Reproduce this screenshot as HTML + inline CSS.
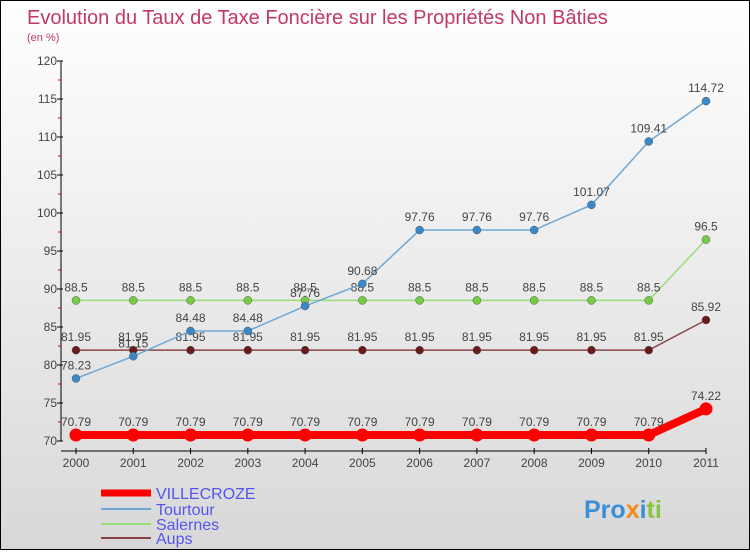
<!DOCTYPE html>
<html><head><meta charset="utf-8"><style>
body{margin:0}
#c{width:748px;height:548px;border:1px solid #000;background:linear-gradient(#fff,#d8d8d8);position:relative;font-family:"Liberation Sans",sans-serif}
text{font-family:"Liberation Sans",sans-serif}
</style></head><body>
<div id="c">
<svg id="s" width="748" height="548">
<text x="26" y="23" font-size="20" fill="#c2386a">Evolution du Taux de Taxe Foncière sur les Propriétés Non Bâties</text>
<text x="26" y="40" font-size="11" fill="#c2386a">(en %)</text>
<g id="ax"></g><g id="ser"></g>
<g>
<line x1="100" y1="492" x2="150" y2="492" stroke="#f00" stroke-width="7"/>
<text x="155" y="498" font-size="16" fill="#5555ee">VILLECROZE</text>
<line x1="100" y1="508" x2="150" y2="508" stroke="#6fa8d6" stroke-width="2"/>
<text x="155" y="514" font-size="16" fill="#5555ee">Tourtour</text>
<line x1="100" y1="523" x2="150" y2="523" stroke="#99dd77" stroke-width="2"/>
<text x="155" y="529" font-size="16" fill="#5555ee">Salernes</text>
<line x1="100" y1="537" x2="150" y2="537" stroke="#884444" stroke-width="2"/>
<text x="155" y="543" font-size="16" fill="#5555ee">Aups</text>
</g>
<text x="583" y="517" font-size="25" font-weight="bold"><tspan fill="#3a8fd8">Pro</tspan><tspan fill="#f08a1c">x</tspan><tspan fill="#3a8fd8">i</tspan><tspan fill="#8ac43f">ti</tspan></text>
</svg></div>
<script>
const years=["2000","2001","2002","2003","2004","2005","2006","2007","2008","2009","2010","2011"];
const yTicks=[70,75,80,85,90,95,100,105,110,115,120];
const villecroze=[70.79,70.79,70.79,70.79,70.79,70.79,70.79,70.79,70.79,70.79,70.79,74.22];
const tourtour=[78.23,81.15,84.48,84.48,87.76,90.68,97.76,97.76,97.76,101.07,109.41,114.72];
const salernes=[88.5,88.5,88.5,88.5,88.5,88.5,88.5,88.5,88.5,88.5,88.5,96.5];
const aups=[81.95,81.95,81.95,81.95,81.95,81.95,81.95,81.95,81.95,81.95,81.95,85.92];
const NS="http://www.w3.org/2000/svg";
const X=i=>75+i*(630/11), Y=v=>440-(v-70)*7.6;
function mk(p,t,a){const e=document.createElementNS(NS,t);for(const k in a)e.setAttribute(k,a[k]);p.appendChild(e);return e;}
const ax=document.getElementById('ax');
mk(ax,'line',{x1:60,y1:Y(120),x2:60,y2:440,stroke:'#000'});
mk(ax,'line',{x1:60,y1:450,x2:705,y2:450,stroke:'#000'});
yTicks.forEach(v=>{
 mk(ax,'line',{x1:56,y1:Y(v),x2:62,y2:Y(v),stroke:'#000'});
 if(v<120) mk(ax,'line',{x1:57,y1:Y(v+2.5),x2:60,y2:Y(v+2.5),stroke:'#d00'});
 const t=mk(ax,'text',{x:56,y:Y(v)+4,'text-anchor':'end','font-size':12,fill:'#444'});t.textContent=v;
 
 
});
years.forEach((y,i)=>{
 mk(ax,'line',{x1:X(i),y1:447,x2:X(i),y2:453,stroke:'#000'});
 const t=mk(ax,'text',{x:X(i),y:466,'text-anchor':'middle','font-size':12,fill:'#444'});t.textContent=y;
 
 
});
const ser=document.getElementById('ser');
function draw(name,vals,lc,pc,w,r){
 const g=mk(ser,'g',{});
 
 
 mk(g,'polyline',{points:vals.map((v,i)=>X(i)+','+Y(v)).join(' '),fill:'none',stroke:lc,'stroke-width':w});
 vals.forEach((v,i)=>{
  const c=mk(g,'circle',{cx:X(i),cy:Y(v),r:r,fill:pc,stroke:'#555','stroke-width':r>5?0:0.5});
  
  
  const t=mk(g,'text',{x:X(i),y:Y(v)-9,'text-anchor':'middle','font-size':12,fill:'#444'});t.textContent=v;
  
  
 });
}
draw('aups',aups,'#884444','#6b1a1a',1.5,4);
draw('salernes',salernes,'#99dd77','#77cc44',1.5,4);
draw('tourtour',tourtour,'#6fa8d6','#3a88c8',1.5,4);
draw('villecroze',villecroze,'#f00','#f00',8,6.5);
</script>
</body></html>
